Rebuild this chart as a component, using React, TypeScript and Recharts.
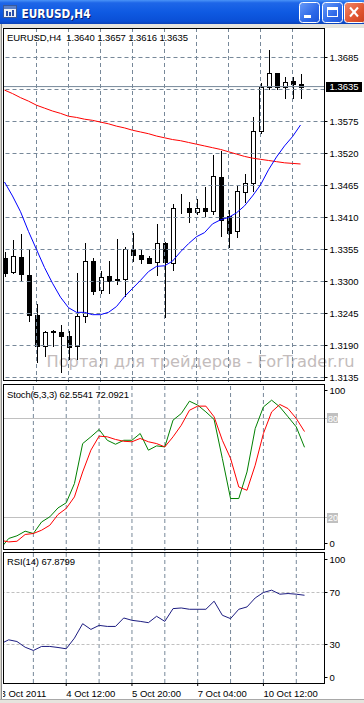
import React from 'react';
import { ComposedChart, Bar, Line, XAxis, YAxis, ReferenceLine } from 'recharts';

// ---------- data ----------
const symbolLabel = 'EURUSD,H4';
const times = [
  '2011.10.03 04:00', '2011.10.03 08:00', '2011.10.03 12:00', '2011.10.03 16:00', '2011.10.03 20:00',
  '2011.10.04 00:00', '2011.10.04 04:00', '2011.10.04 08:00', '2011.10.04 12:00', '2011.10.04 16:00', '2011.10.04 20:00',
  '2011.10.05 00:00', '2011.10.05 04:00', '2011.10.05 08:00', '2011.10.05 12:00', '2011.10.05 16:00', '2011.10.05 20:00',
  '2011.10.06 00:00', '2011.10.06 04:00', '2011.10.06 08:00', '2011.10.06 12:00', '2011.10.06 16:00', '2011.10.06 20:00',
  '2011.10.07 00:00', '2011.10.07 04:00', '2011.10.07 08:00', '2011.10.07 12:00', '2011.10.07 16:00', '2011.10.07 20:00',
  '2011.10.10 00:00', '2011.10.10 04:00', '2011.10.10 08:00', '2011.10.10 12:00', '2011.10.10 16:00', '2011.10.10 20:00',
  '2011.10.11 00:00', '2011.10.11 04:00', '2011.10.11 08:00',
];
const open = [1.3341, 1.3317, 1.3342, 1.3312, 1.3243, 1.3190, 1.3214, 1.3214, 1.3207, 1.3190, 1.3240, 1.3335, 1.3285, 1.3310, 1.3305, 1.3305, 1.3356, 1.3346, 1.3341, 1.3334, 1.3367, 1.3332, 1.3426, 1.3427, 1.3419, 1.3426, 1.3422, 1.3480, 1.3412, 1.3386, 1.3453, 1.3470, 1.3558, 1.3634, 1.3658, 1.3634, 1.3645, 1.3640];
const high = [1.3351, 1.3372, 1.3381, 1.3355, 1.3261, 1.3215, 1.3217, 1.3226, 1.3215, 1.3314, 1.3366, 1.3341, 1.3318, 1.3335, 1.3373, 1.3360, 1.3383, 1.3355, 1.3343, 1.3398, 1.3368, 1.3434, 1.3451, 1.3436, 1.3441, 1.3463, 1.3518, 1.3524, 1.3423, 1.3466, 1.3485, 1.3583, 1.3641, 1.3698, 1.3659, 1.3652, 1.3652, 1.3657];
const low = [1.3310, 1.3315, 1.3303, 1.3232, 1.3162, 1.3172, 1.3190, 1.3144, 1.3166, 1.3166, 1.3231, 1.3278, 1.3281, 1.3281, 1.3296, 1.3275, 1.3335, 1.3331, 1.3331, 1.3312, 1.3239, 1.3319, 1.3418, 1.3402, 1.3416, 1.3412, 1.3416, 1.3379, 1.3359, 1.3377, 1.3436, 1.3455, 1.3556, 1.3630, 1.3630, 1.3616, 1.3616, 1.3616];
const close = [1.3315, 1.3344, 1.3313, 1.3242, 1.3189, 1.3214, 1.3215, 1.3206, 1.3187, 1.3240, 1.3336, 1.3283, 1.3308, 1.3301, 1.3302, 1.3356, 1.3346, 1.3338, 1.3332, 1.3366, 1.3333, 1.3426, 1.3427, 1.3420, 1.3426, 1.3422, 1.3482, 1.3406, 1.3384, 1.3456, 1.3470, 1.3559, 1.3634, 1.3658, 1.3635, 1.3643, 1.3639, 1.3635];
const maSlow = [1.3629, 1.3623, 1.3616, 1.3610, 1.3603, 1.3598, 1.3593, 1.3589, 1.3584, 1.3582, 1.3579, 1.3577, 1.3574, 1.3571, 1.3567, 1.3564, 1.3560, 1.3557, 1.3554, 1.3550, 1.3547, 1.3544, 1.3542, 1.3539, 1.3536, 1.3533, 1.3530, 1.3527, 1.3523, 1.3519, 1.3515, 1.3512, 1.3510, 1.3508, 1.3506, 1.3504, 1.3503, 1.3502];
const maFast = [1.3471, 1.3447, 1.3420, 1.3386, 1.3355, 1.3324, 1.3297, 1.3273, 1.3255, 1.3247, 1.3247, 1.3243, 1.3243, 1.3247, 1.3257, 1.3274, 1.3288, 1.3302, 1.3317, 1.3326, 1.3327, 1.3335, 1.3351, 1.3365, 1.3377, 1.3384, 1.3399, 1.3406, 1.3410, 1.3418, 1.3430, 1.3447, 1.3466, 1.3492, 1.3514, 1.3533, 1.3549, 1.3569];
const stochMain = [1.2, 7.3, 8.9, 11.7, 10.3, 17.3, 20.4, 25.8, 28.9, 40.6, 64.8, 68.9, 73.3, 66.8, 64.4, 66.8, 66.8, 70.9, 60.8, 63.4, 62.8, 79.0, 83.0, 90.5, 88.1, 84.0, 79.4, 55.8, 31.5, 31.5, 47.6, 73.9, 87.0, 91.1, 87.0, 81.0, 74.9, 62.5541];
const stochSignal = [6.2, 5.2, 5.6, 9.7, 10.3, 12.3, 15.3, 21.8, 25.5, 32.5, 47.6, 60.8, 69.3, 68.9, 67.3, 66.2, 65.9, 67.9, 65.9, 64.8, 62.8, 68.9, 75.9, 85.0, 87.5, 87.5, 81.0, 66.8, 55.8, 38.5, 36.5, 51.7, 70.9, 84.0, 88.5, 86.0, 80.0, 72.0921];
const rsi = [30.5, 33.6, 32.3, 27.9, 25.4, 28.5, 28.5, 27.7, 26.7, 34.9, 46.0, 41.6, 44.7, 43.9, 43.9, 50.4, 48.6, 47.8, 46.8, 51.7, 47.8, 57.6, 58.1, 57.1, 57.1, 57.1, 63.3, 52.5, 49.9, 57.1, 58.9, 65.8, 70.0, 71.8, 68.7, 69.2, 68.7, 67.8799];

const gridTimes = ['2011.10.03 20:00', '2011.10.04 12:00', '2011.10.05 04:00', '2011.10.05 20:00', '2011.10.06 12:00', '2011.10.07 04:00', '2011.10.07 20:00', '2011.10.10 12:00', '2011.10.11 04:00'];
const xLabelTimes = ['2011.10.03 04:00', '2011.10.04 12:00', '2011.10.05 20:00', '2011.10.07 04:00', '2011.10.10 12:00'];
const xLabelTexts = ['3 Oct 2011', '4 Oct 12:00', '5 Oct 20:00', '7 Oct 04:00', '10 Oct 12:00'];
const priceGridLevels = [1.3135, 1.3190, 1.3245, 1.3300, 1.3355, 1.3410, 1.3465, 1.3520, 1.3575, 1.3630, 1.3685];
const priceTickLabels = [1.3135, 1.3190, 1.3245, 1.3300, 1.3355, 1.3410, 1.3465, 1.3520, 1.3575, 1.3685];
const priceDomain = [1.3127266, 1.3735703];
const stochDomain = [-0.303, 100.909];
const stochLevels = [20, 80];
const stochTicks = [0, 20, 80, 100];
const rsiDomain = [0.3846, 100.3846];
const rsiLevels = [30, 70];
const rsiTicks = [0, 30, 70, 100];
const watermark = 'Портал для трейдеров - ForTrader.ru';

const last = times.length - 1;
const lastPrice = close[last];

const data = times.map((t, i) => ({
  time: t,
  open: open[i],
  high: high[i],
  low: low[i],
  close: close[i],
  maSlow: maSlow[i],
  maFast: maFast[i],
  stochMain: stochMain[i],
  stochSignal: stochSignal[i],
  rsi: rsi[i],
}));

// ---------- styling ----------
const FONT = "'Liberation Sans', Arial, sans-serif";
const GRID = '#778899';
const AXIS_FS = 9.5;
const CHART_W = 364;
const MARGIN = { top: 0, right: 0, bottom: 0, left: 0.5 };
const XPAD = { left: 0, right: 20 };
const YW = 39.5;

function Candle(props: any) {
  const { x, y, width, height, payload } = props;
  if (!payload || x == null || y == null) return null;
  const { open: o, close: c, high: h, low: l } = payload;
  const top = Math.min(y, y + height);
  const span = Math.abs(height);
  const rng = h - l || 1;
  const toY = (p: number) => top + ((h - p) / rng) * span;
  const cx = Math.floor(x + width / 2) + 0.5;
  const yh = Math.round(toY(h));
  const yl = Math.round(toY(l));
  const yTop = Math.round(toY(Math.max(o, c)));
  const yBot = Math.round(toY(Math.min(o, c)));
  const bull = c >= o;
  return (
    <g>
      <line x1={cx} x2={cx} y1={yh} y2={yl + 1} stroke="#000" strokeWidth={1} />
      <rect x={cx - 2} y={yTop + 0.5} width={4} height={Math.max(yBot - yTop, 0)} fill={bull ? '#fff' : '#000'} stroke="#000" strokeWidth={1} />
    </g>
  );
}

function PriceTick(props: any) {
  const { x, y, payload } = props;
  const v = payload.value;
  if (v === lastPrice) {
    return (
      <g>
        <rect x={x - 3.5} y={Math.round(y) - 5} width={36} height={10} fill="#000" />
        <text x={x} y={y} dy="0.35em" fontSize={AXIS_FS} fontFamily={FONT} fill="#fff">{v.toFixed(4)}</text>
      </g>
    );
  }
  const ty = Math.floor(y) + 0.5;
  return (
    <g>
      <line x1={x - 5} x2={x - 2} y1={ty} y2={ty} stroke="#000" />
      <text x={x} y={y} dy="0.35em" fontSize={AXIS_FS} fontFamily={FONT} fill="#000">{v.toFixed(4)}</text>
    </g>
  );
}

function makeLevelTick(boxed: number[], topShift: number, bottomShift: number, minV: number, maxV: number) {
  return function LevelTick(props: any) {
    const { x, y, payload } = props;
    const v = payload.value;
    const cy = v === maxV ? y + topShift : v === minV ? y + bottomShift : y;
    const ty = Math.floor(cy) + 0.5;
    if (boxed.includes(v)) {
      return (
        <g>
          <line x1={x - 5} x2={x - 2} y1={ty} y2={ty} stroke="#c0c0c0" />
          <rect x={x - 2.5} y={Math.round(cy) - 5} width={11} height={10} fill="#c0c0c0" />
          <text x={x - 1.5} y={cy} dy="0.35em" fontSize={9} fontFamily={FONT} fill="#ffffff">{v}</text>
        </g>
      );
    }
    return (
      <g>
        <line x1={x - 5} x2={x - 2} y1={ty} y2={ty} stroke="#000" />
        <text x={x} y={cy} dy="0.35em" fontSize={AXIS_FS} fontFamily={FONT} fill="#000">{v}</text>
      </g>
    );
  };
}

const StochTick = makeLevelTick(stochLevels, 5.5, -7, 0, 100);
const RsiTick = makeLevelTick([], 6.5, -6, 0, 100);

const vGrid = (prefix: string) =>
  gridTimes.map((t) => (
    <ReferenceLine key={prefix + t} x={t} stroke={GRID} strokeDasharray="4 3" ifOverflow="visible" />
  ));

export default function App() {
  return (
    <div style={{ position: 'fixed', left: 0, top: 0, width: 364, height: 703, background: '#fff', overflow: 'hidden', fontFamily: FONT }}>
      {/* watermark behind the chart */}
      <svg width={364} height={703} style={{ position: 'absolute', left: 0, top: 0 }}>
        <text x={46.5} y={367} fontSize={15} fontFamily="'DejaVu Sans', sans-serif" fill="#c3bcbc" textLength={308} lengthAdjust="spacingAndGlyphs">{watermark}</text>
      </svg>

      {/* main price panel */}
      <div style={{ position: 'absolute', left: 0, top: 28 }}>
        <ComposedChart width={CHART_W} height={354} data={data} margin={MARGIN}>
          <XAxis dataKey="time" type="category" hide padding={XPAD} />
          <YAxis
            orientation="right"
            type="number"
            domain={priceDomain}
            allowDataOverflow
            width={YW}
            ticks={[...priceTickLabels, lastPrice]}
            interval={0}
            axisLine={false}
            tickLine={false}
            tickSize={3}
            tickMargin={2}
            tick={(p: any) => <PriceTick {...p} />}
          />
          {vGrid('m')}
          {priceGridLevels.map((lv) => (
            <ReferenceLine key={'h' + lv} y={lv} stroke={GRID} strokeDasharray="4 3" />
          ))}
          <ReferenceLine y={lastPrice} stroke={GRID} />
          <Bar dataKey={(d: any) => [d.low, d.high]} barSize={5} shape={(p: any) => <Candle {...p} />} isAnimationActive={false} />
          <Line dataKey="maSlow" type="linear" stroke="#ff0000" strokeWidth={1} dot={false} activeDot={false} isAnimationActive={false} />
          <Line dataKey="maFast" type="linear" stroke="#0000ff" strokeWidth={1} dot={false} activeDot={false} isAnimationActive={false} />
        </ComposedChart>
      </div>

      {/* stochastic panel */}
      <div style={{ position: 'absolute', left: 0, top: 384 }}>
        <ComposedChart width={CHART_W} height={167} data={data} margin={MARGIN}>
          <XAxis dataKey="time" type="category" hide padding={XPAD} />
          <YAxis
            orientation="right"
            type="number"
            domain={stochDomain}
            allowDataOverflow
            width={YW}
            ticks={stochTicks}
            interval={0}
            axisLine={false}
            tickLine={false}
            tickSize={3}
            tickMargin={2}
            tick={(p: any) => <StochTick {...p} />}
          />
          {vGrid('s')}
          {stochLevels.map((lv) => (
            <ReferenceLine key={'sl' + lv} y={lv} stroke="#c0c0c0" />
          ))}
          <Line dataKey="stochMain" type="linear" stroke="#008000" strokeWidth={1} dot={false} activeDot={false} isAnimationActive={false} />
          <Line dataKey="stochSignal" type="linear" stroke="#ff0000" strokeWidth={1} dot={false} activeDot={false} isAnimationActive={false} />
        </ComposedChart>
      </div>

      {/* RSI panel with time axis */}
      <div style={{ position: 'absolute', left: 0, top: 553 }}>
        <ComposedChart width={CHART_W} height={150} data={data} margin={MARGIN}>
          <XAxis
            dataKey="time"
            type="category"
            padding={XPAD}
            height={20}
            ticks={xLabelTimes}
            interval={0}
            axisLine={false}
            tickLine={{ stroke: '#000' }}
            tickSize={3}
            tickMargin={4}
            tickFormatter={(t: string) => xLabelTexts[xLabelTimes.indexOf(t)]}
            tick={{ fontSize: AXIS_FS, fill: '#000', fontFamily: FONT, textAnchor: 'start' }}
          />
          <YAxis
            orientation="right"
            type="number"
            domain={rsiDomain}
            allowDataOverflow
            width={YW}
            ticks={rsiTicks}
            interval={0}
            axisLine={false}
            tickLine={false}
            tickSize={3}
            tickMargin={2}
            tick={(p: any) => <RsiTick {...p} />}
          />
          {vGrid('r')}
          {rsiLevels.map((lv) => (
            <ReferenceLine key={'rl' + lv} y={lv} stroke="#c0c0c0" strokeDasharray="3 2" />
          ))}
          <Line dataKey="rsi" type="linear" stroke="#1c1c80" strokeWidth={1} dot={false} activeDot={false} isAnimationActive={false} />
        </ComposedChart>
      </div>

      {/* foreground: window chrome, frames, headers */}
      <svg width={364} height={703} style={{ position: 'absolute', left: 0, top: 0, pointerEvents: 'none' }}>
        <defs>
          <linearGradient id="titleGrad" x1="0" y1="0" x2="0" y2="1">
            <stop offset="0" stopColor="#4a93f7" />
            <stop offset="0.12" stopColor="#1e66e8" />
            <stop offset="0.5" stopColor="#0f5ae2" />
            <stop offset="0.88" stopColor="#0a4fd6" />
            <stop offset="1" stopColor="#0b42b8" />
          </linearGradient>
          <linearGradient id="btnGrad" x1="0" y1="0" x2="1" y2="1">
            <stop offset="0" stopColor="#6a9cf8" />
            <stop offset="0.6" stopColor="#2d68e8" />
            <stop offset="1" stopColor="#1d55d8" />
          </linearGradient>
          <linearGradient id="closeGrad" x1="0" y1="0" x2="1" y2="1">
            <stop offset="0" stopColor="#f0876a" />
            <stop offset="0.6" stopColor="#e0542f" />
            <stop offset="1" stopColor="#c8401e" />
          </linearGradient>
        </defs>
        {/* title bar */}
        <rect x={0} y={0} width={364} height={24} fill="url(#titleGrad)" />
        {/* icon */}
        <rect x={3.5} y={5.5} width={13} height={12} fill="#eef2f8" stroke="#3a5a9a" />
        <rect x={4} y={6} width={12} height={3} fill="#5a80c8" />
        <rect x={6} y={11} width={2} height={5} fill="#2a50a8" />
        <rect x={9} y={12} width={2} height={4} fill="#2a50a8" />
        <rect x={12} y={10} width={2} height={6} fill="#2a50a8" />
        <text x={22.5} y={18.5} fontSize={13} fontWeight="bold" fontFamily="'DejaVu Sans', sans-serif" fill="#0a1e6e" textLength={69} lengthAdjust="spacingAndGlyphs">{symbolLabel}</text>
        <text x={21.5} y={17.5} fontSize={13} fontWeight="bold" fontFamily="'DejaVu Sans', sans-serif" fill="#ffffff" textLength={69} lengthAdjust="spacingAndGlyphs">{symbolLabel}</text>
        {/* buttons */}
        <rect x={299.5} y={2.5} width={20} height={20} rx={3} fill="url(#btnGrad)" stroke="#fff" />
        <rect x={304} y={15} width={7} height={3} fill="#fff" />
        <rect x={322.5} y={2.5} width={20} height={20} rx={3} fill="url(#btnGrad)" stroke="#fff" />
        <rect x={327} y={7} width={11} height={3} fill="#fff" />
        <rect x={327.5} y={7.5} width={10} height={9} fill="none" stroke="#fff" />
        <rect x={344.5} y={2.5} width={21} height={20} rx={3} fill="url(#closeGrad)" stroke="#fff" />
        <line x1={350} y1={7.5} x2={358} y2={16.5} stroke="#fff" strokeWidth={2} />
        <line x1={358} y1={7.5} x2={350} y2={16.5} stroke="#fff" strokeWidth={2} />
        {/* frame band under title */}
        <rect x={0} y={24} width={364} height={4} fill="#e6e4de" />
        {/* left strip */}
        <rect x={0} y={24} width={1} height={679} fill="#d8d5cc" />
        <rect x={1} y={24} width={1} height={679} fill="#8c8c8c" />
        <rect x={2} y={28} width={1} height={671} fill="#ffffff" />
        {/* bottom strip */}
        <rect x={0} y={699} width={364} height={1} fill="#a8a8a8" />
        <rect x={0} y={700} width={364} height={3} fill="#e6e4de" />
        {/* panel frames */}
        <rect x={3.5} y={28.5} width={321} height={352} fill="none" stroke="#000" />
        <rect x={3.5} y={384.5} width={321} height={165} fill="none" stroke="#000" />
        <rect x={3.5} y={552.5} width={321} height={131} fill="none" stroke="#000" />
        {/* headers */}
        <text x={7} y={40.5} fontSize={AXIS_FS} fontFamily={FONT} fill="#000" style={{ whiteSpace: 'pre' }} textLength={181} lengthAdjust="spacing">
          {`${symbolLabel}  ${open[last].toFixed(4)} ${high[last].toFixed(4)} ${low[last].toFixed(4)} ${close[last].toFixed(4)}`}
        </text>
        <text x={7} y={397.5} fontSize={AXIS_FS} fontFamily={FONT} fill="#000" textLength={122} lengthAdjust="spacing">
          {`Stoch(5,3,3) ${stochMain[last].toFixed(4)} ${stochSignal[last].toFixed(4)}`}
        </text>
        <text x={7} y={565} fontSize={AXIS_FS} fontFamily={FONT} fill="#000" textLength={68} lengthAdjust="spacing">
          {`RSI(14) ${rsi[last].toFixed(4)}`}
        </text>
      </svg>
    </div>
  );
}
